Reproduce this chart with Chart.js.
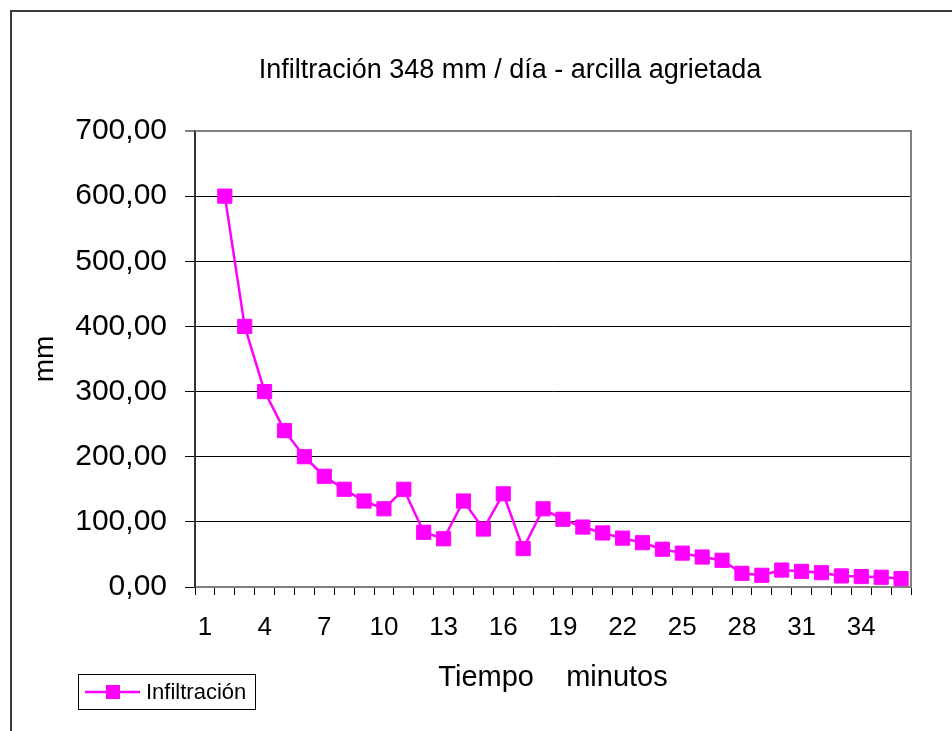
<!DOCTYPE html>
<html>
<head>
<meta charset="utf-8">
<script src="https://cdn.jsdelivr.net/npm/chart.js@4.4.1/dist/chart.umd.min.js"></script>
<style>
  html, body { margin: 0; padding: 0; background: #ffffff; }
  #wrap { width: 952px; height: 731px; }
</style>
</head>
<body>
<div id="wrap"><canvas id="c" width="952" height="731"></canvas></div>
<script>
// Minutes since the start of the test (category axis)
const minutos = ['1','2','3','4','5','6','7','8','9','10','11','12','13','14','15','16','17','18',
                 '19','20','21','22','23','24','25','26','27','28','29','30','31','32','33','34','35','36'];
// Infiltration per interval, mm (no reading at minute 1)
const infiltracion = [null, 600, 400, 300, 240, 200, 170, 150, 132, 120, 150, 84, 74, 132, 89, 143, 59, 120,
                      104, 92, 83, 75, 68, 58, 52, 46, 41, 21, 18, 26, 24, 22, 17, 16, 15, 13];
const serieNombre = 'Infiltración';
const titulo = 'Infiltración 348 mm / día - arcilla agrietada';
const tituloX = 'Tiempo    minutos';
const tituloY = 'mm';

const FONT = '"Liberation Sans", Arial, sans-serif';
const MAGENTA = '#FF00FF';

// Heading, outer frame, right/top edges of the plot and the boxed legend
const decor = {
  id: 'decor',
  beforeDraw(chart) {
    const ctx = chart.ctx;
    ctx.save();
    ctx.fillStyle = '#ffffff';
    ctx.fillRect(0, 0, chart.width, chart.height);
    ctx.restore();
  },
  afterDraw(chart) {
    const ctx = chart.ctx;
    const a = chart.chartArea;
    ctx.save();
    // heading
    ctx.fillStyle = '#000000';
    ctx.font = '27px ' + FONT;
    ctx.textAlign = 'center';
    ctx.textBaseline = 'alphabetic';
    ctx.fillText(titulo, 510, 78);
    // plot frame (top and right)
    ctx.strokeStyle = '#808080';
    ctx.lineWidth = 2;
    ctx.beginPath();
    ctx.moveTo(a.left, a.top);
    ctx.lineTo(a.right, a.top);
    ctx.lineTo(a.right, a.bottom);
    ctx.stroke();
    // outer chart frame
    ctx.strokeStyle = '#3a3a3a';
    ctx.lineWidth = 2;
    ctx.strokeRect(11, 11, 1200, 1200);
    // legend
    const ds = chart.data.datasets[0];
    const bx = 78.5, by = 674.5, bw = 177, bh = 35;
    ctx.fillStyle = '#ffffff';
    ctx.fillRect(bx, by, bw, bh);
    ctx.strokeStyle = '#000000';
    ctx.lineWidth = 1;
    ctx.strokeRect(bx, by, bw, bh);
    const cy = by + bh / 2;
    ctx.strokeStyle = ds.borderColor;
    ctx.lineWidth = 2.5;
    ctx.beginPath();
    ctx.moveTo(85, cy);
    ctx.lineTo(140, cy);
    ctx.stroke();
    ctx.fillStyle = ds.pointBackgroundColor;
    ctx.fillRect(113 - 7, cy - 7, 14, 14);
    ctx.fillStyle = '#000000';
    ctx.font = '22px ' + FONT;
    ctx.textAlign = 'left';
    ctx.textBaseline = 'middle';
    ctx.fillText(ds.label, 146, cy + 1);
    ctx.restore();
  }
};

new Chart(document.getElementById('c'), {
  type: 'line',
  data: {
    labels: minutos,
    datasets: [{
      label: serieNombre,
      data: infiltracion,
      borderColor: MAGENTA,
      backgroundColor: MAGENTA,
      pointBackgroundColor: MAGENTA,
      pointBorderColor: MAGENTA,
      borderWidth: 2.5,
      pointStyle: 'rect',
      pointRadius: 10,
      pointBorderWidth: 1,
      tension: 0,
      spanGaps: false
    }]
  },
  options: {
    responsive: false,
    animation: false,
    devicePixelRatio: 1,
    layout: { padding: { left: 0, right: 41, top: 131, bottom: 0 } },
    plugins: {
      legend: { display: false },
      tooltip: { enabled: false },
      title: { display: false }
    },
    scales: {
      x: {
        type: 'category',
        offset: true,
        grid: {
          offset: true,
          drawOnChartArea: false,
          drawTicks: true,
          tickLength: 8,
          color: '#000000',
          lineWidth: 1
        },
        border: { display: true, color: '#808080', width: 2 },
        ticks: {
          autoSkip: false,
          maxRotation: 0,
          minRotation: 0,
          padding: 17,
          color: '#000000',
          font: { family: FONT, size: 26 },
          callback: function (v, i) { return i % 3 === 0 ? this.getLabelForValue(v) : ''; }
        },
        title: {
          display: true,
          text: tituloX,
          color: '#000000',
          font: { family: FONT, size: 29, lineHeight: 1.2 },
          padding: { top: 0, bottom: 36 }
        },
        afterFit(scale) { scale.height = 144; }
      },
      y: {
        min: 0,
        max: 700,
        grid: {
          drawTicks: true,
          tickLength: 10,
          color: (c) => (c.tick && c.tick.value === 700 ? '#808080' : '#000000'),
          lineWidth: (c) => (c.tick && c.tick.value === 700 ? 2 : 1)
        },
        border: { display: true, color: '#333333', width: 2 },
        ticks: {
          stepSize: 100,
          padding: 18,
          color: '#000000',
          font: { family: FONT, size: 30 },
          callback: (v) => Number(v).toFixed(2).replace('.', ',')
        },
        title: {
          display: true,
          text: tituloY,
          color: '#000000',
          font: { family: FONT, size: 28, lineHeight: 1.2 },
          padding: { top: 28, bottom: 0 }
        },
        afterFit(scale) { scale.width = 195; }
      }
    }
  },
  plugins: [decor]
});
</script>
</body>
</html>
